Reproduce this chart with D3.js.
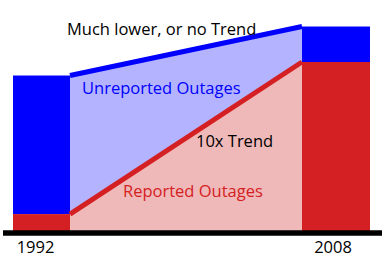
<!DOCTYPE html>
<html>
<head>
<meta charset="utf-8">
<script src="https://cdn.jsdelivr.net/npm/d3@7"></script>
<style>
  body { margin: 0; background: #fff; }
  svg { display: block; font-family: "Open Sans", sans-serif; }
</style>
</head>
<body>
<svg width="389" height="262"></svg>
<script>
// data
var years = [1992, 2008];
var reported = [1, 10];        // reported outages (relative)
var total = [9.2, 12.1];       // reported + unreported
var yearLabels = ["1992", "2008"];

var svg = d3.select("svg"),
    baseY = 231;

// inner edges of the bars are where the trend lines meet them
var x = d3.scaleLinear().domain([1992, 2008]).range([70, 302]);
var y = d3.scaleLinear().domain([0, 10]).range([baseY, 62]);

var barW = {1992: 57, 2008: 68};
function barX(d) { return d === 1992 ? x(d) - barW[d] : x(d); }

var rows = years.map(function(d, i) {
  return {year: d, rep: reported[i], tot: total[i]};
});

// filled areas between the bars
svg.append("path")
    .datum(rows)
    .attr("fill", "#b3b3ff")
    .attr("d", d3.area()
      .x(function(d) { return x(d.year); })
      .y0(function(d) { return y(d.rep); })
      .y1(function(d) { return y(d.tot); }));

svg.append("path")
    .datum(rows)
    .attr("fill", "#f0b9b9")
    .attr("d", d3.area()
      .x(function(d) { return x(d.year); })
      .y0(baseY)
      .y1(function(d) { return y(d.rep); }));

// bars
svg.selectAll(".tot")
  .data(rows)
  .enter().append("rect")
    .attr("class", "tot")
    .attr("x", function(d) { return barX(d.year); })
    .attr("width", function(d) { return barW[d.year]; })
    .attr("y", function(d) { return y(d.tot); })
    .attr("height", function(d) { return y(d.rep) - y(d.tot); })
    .attr("fill", "#0000ff");

svg.selectAll(".rep")
  .data(rows)
  .enter().append("rect")
    .attr("class", "rep")
    .attr("x", function(d) { return barX(d.year); })
    .attr("width", function(d) { return barW[d.year]; })
    .attr("y", function(d) { return y(d.rep); })
    .attr("height", function(d) { return baseY - y(d.rep); })
    .attr("fill", "#d42022");

// trend lines
svg.append("path")
    .datum(rows)
    .attr("fill", "none")
    .attr("stroke", "#0000ff")
    .attr("stroke-width", 5)
    .attr("d", d3.line()
      .x(function(d) { return x(d.year); })
      .y(function(d) { return y(d.tot); }));

svg.append("path")
    .datum(rows)
    .attr("fill", "none")
    .attr("stroke", "#d42022")
    .attr("stroke-width", 5)
    .attr("d", d3.line()
      .x(function(d) { return x(d.year); })
      .y(function(d) { return y(d.rep); }));

// baseline and year labels
svg.append("line")
    .attr("x1", 3).attr("x2", 382)
    .attr("y1", baseY + 2).attr("y2", baseY + 2)
    .attr("stroke", "#000")
    .attr("stroke-width", 5.5);

svg.selectAll(".yr")
  .data(rows)
  .enter().append("text")
    .attr("class", "yr")
    .attr("x", function(d) { return barX(d.year) + barW[d.year] / 2 + (d.year === 1992 ? -6 : -3); })
    .attr("y", 253)
    .attr("text-anchor", "middle")
    .attr("font-size", 16.5)
    .attr("fill", "#000")
    .text(function(d, i) { return yearLabels[i]; });

// annotations
function label(txt, tx, ty, color) {
  svg.append("text")
      .attr("x", tx).attr("y", ty)
      .attr("font-size", 16.5)
      .attr("fill", color)
      .text(txt);
}
label("Much lower, or no Trend", 67, 35, "#000");
label("Unreported Outages", 82, 94, "#0000ff");
label("10x Trend", 196, 147, "#000");
label("Reported Outages", 123, 197, "#d42022");
</script>
</body>
</html>
